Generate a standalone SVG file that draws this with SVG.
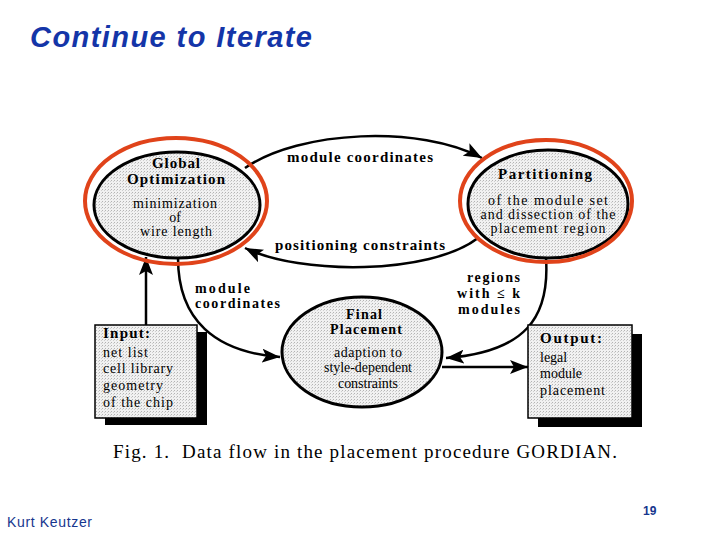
<svg xmlns="http://www.w3.org/2000/svg" width="720" height="540" viewBox="0 0 720 540">
<defs>
<pattern id="dots" width="3" height="3" patternUnits="userSpaceOnUse">
<rect width="3" height="3" fill="#f1f1f1"/>
<rect x="0" y="0" width="1" height="1" fill="#b4b4b4"/>
<rect x="2" y="1" width="1" height="1" fill="#cfcfcf"/>
</pattern>
<marker id="ah" markerUnits="userSpaceOnUse" markerWidth="20" markerHeight="14" refX="18" refY="7" orient="auto">
<path d="M0,0 L18,7 L0,14 L4,7 z" fill="#000"/>
</marker>
<style>
.node{fill:url(#dots);stroke:#000;stroke-width:3}
.hl{fill:none;stroke:#e0431a;stroke-width:4}
.con{fill:none;stroke:#000;stroke-width:2.5;marker-end:url(#ah)}
.b{font-family:"Liberation Serif",serif;font-weight:bold;font-size:15px;fill:#000}
.s{font-size:14px}
.r{font-family:"Liberation Serif",serif;font-size:14px;fill:#000}
.c{text-anchor:middle}
.box{fill:url(#dots);stroke:#000;stroke-width:1.5}
.sh{fill:#000}
</style>
</defs>
<rect width="720" height="540" fill="#fff"/>
<text x="30" y="47" font-family="Liberation Sans, Arial, sans-serif" font-weight="bold" font-style="italic" font-size="29" fill="#1435a8" textLength="282">Continue to Iterate</text>

<g id="connectors">
<path class="con" d="M 245 168 C 300 130, 420 125, 482 158"/>
<path class="con" d="M 478 238 C 430 275, 300 275, 245 248"/>
<path class="con" d="M 178 258 C 178 320, 215 352, 280 357"/>
<path class="con" d="M 546 258 C 550 318, 525 352, 446 358"/>
<path class="con" d="M 442 367 L 528 367"/>
<path class="con" d="M 146 325 L 146 257"/>
<text class="b c" x="360" y="162" textLength="146">module coordinates</text>
<text class="b c" x="360" y="250" textLength="170">positioning constraints</text>
<text class="b s" x="195" y="293" textLength="55">module</text>
<text class="b s" x="195" y="308" textLength="85">coordinates</text>
<text class="b s" x="467" y="282" textLength="53">regions</text>
<text class="b s" x="457" y="298" textLength="63">with ≤ k</text>
<text class="b s" x="458" y="314" textLength="62">modules</text>
</g>

<g id="global-optimization">
<ellipse class="node" cx="177" cy="205" rx="83" ry="53"/>
<ellipse class="hl" cx="176" cy="201" rx="91" ry="63"/>
<text class="b c" x="176" y="168" textLength="48">Global</text>
<text class="b c" x="176" y="184" textLength="98">Optimization</text>
<text class="r c" x="175" y="208" textLength="84">minimization</text>
<text class="r c" x="175" y="222">of</text>
<text class="r c" x="176" y="236" textLength="72">wire length</text>
</g>

<g id="partitioning">
<ellipse class="node" cx="548" cy="204" rx="80" ry="54"/>
<ellipse class="hl" cx="546" cy="201" rx="86" ry="61"/>
<text class="b c" x="545" y="179" textLength="94">Partitioning</text>
<text class="r c" x="548" y="205" textLength="120">of the module set</text>
<text class="r c" x="548" y="219" textLength="135">and dissection of the</text>
<text class="r c" x="548" y="233" textLength="115">placement region</text>
</g>

<g id="final-placement">
<ellipse class="node" cx="362" cy="352" rx="80" ry="55"/>
<text class="b s c" x="364" y="319" textLength="36">Final</text>
<text class="b s c" x="366" y="334" textLength="72">Placement</text>
<text class="r c" x="368" y="357" textLength="68">adaption to</text>
<text class="r c" x="368" y="372" textLength="88">style-dependent</text>
<text class="r c" x="368" y="388" textLength="60">constraints</text>
</g>

<g id="input">
<rect class="sh" x="105" y="332" width="102" height="93"/>
<rect class="box" x="95" y="325" width="102" height="93"/>
<text class="b" x="103" y="338" textLength="47">Input:</text>
<text class="r" x="103" y="357" textLength="45">net list</text>
<text class="r" x="103" y="373" textLength="70">cell library</text>
<text class="r" x="103" y="390" textLength="60">geometry</text>
<text class="r" x="103" y="407" textLength="70">of the chip</text>
</g>

<g id="output">
<rect class="sh" x="538" y="334" width="104" height="93"/>
<rect class="box" x="528" y="325" width="104" height="93"/>
<text class="b" x="540" y="343" textLength="62">Output:</text>
<text class="r" x="540" y="362">legal</text>
<text class="r" x="540" y="378">module</text>
<text class="r" x="540" y="395" textLength="65">placement</text>
</g>

<text x="113" y="458" font-family="Liberation Serif, serif" font-size="19" fill="#000" textLength="504" xml:space="preserve">Fig. 1.  Data flow in the placement procedure GORDIAN.</text>

<text x="7" y="527" font-family="Liberation Sans, Arial, sans-serif" font-size="14" fill="#16368e" textLength="85">Kurt Keutzer</text>
<text x="643" y="515" font-family="Liberation Sans, Arial, sans-serif" font-weight="bold" font-size="12" fill="#16368e">19</text>
</svg>
